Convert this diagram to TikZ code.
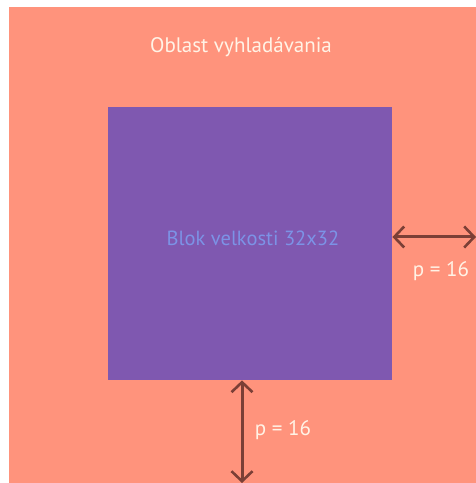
\documentclass[tikz,border=0pt]{standalone}
\usepackage{fontspec}
\setmainfont{PT Sans}
\usetikzlibrary{arrows.meta}

\definecolor{oblast}{HTML}{FF937C}
\definecolor{blok}{HTML}{7F58B0}
\definecolor{sipka}{HTML}{7B3F36}
\definecolor{bloktext}{HTML}{7C93E6}
\definecolor{oblasttext}{HTML}{FFF3E6}

\tikzset{
  pad/.style={<->, >={Straight Barb[length=10pt, width=21pt, line width=2.6pt]}, line width=3pt, sipka},
  padtext/.style={text=oblasttext, font=\fontsize{21}{24}\selectfont}
}

\begin{document}
\begin{tikzpicture}[x=1pt, y=1pt]
\useasboundingbox (0,0) rectangle (476,483);
\fill[white] (0,0) rectangle (476,483);

\node[fill=oblast, minimum width=467pt, minimum height=476pt, inner sep=0pt, anchor=north west] (O) at (9,476) {};
\node[fill=blok, minimum width=284pt, minimum height=273pt, inner sep=0pt, anchor=north west] (B) at (108,376) {};

\node[text=oblasttext, font=\fontsize{21}{24}\selectfont] (Olabel) at (241,436) {Oblast vyhladávania};
\node[text=bloktext, font=\fontsize{20.5}{24}\selectfont] (Blabel) at (253,245) {Blok velkosti 32x32};

\coordinate (R) at (476,246);
\coordinate (D) at (242,0);

\draw[pad] (B.east |- R) -- (R);
\draw[pad] (B.south -| D) -- (D);

\node[padtext] (p1) at (441,212) {p = 16};
\node[padtext] (p2) at (283,53) {p = 16};
\end{tikzpicture}
\end{document}
